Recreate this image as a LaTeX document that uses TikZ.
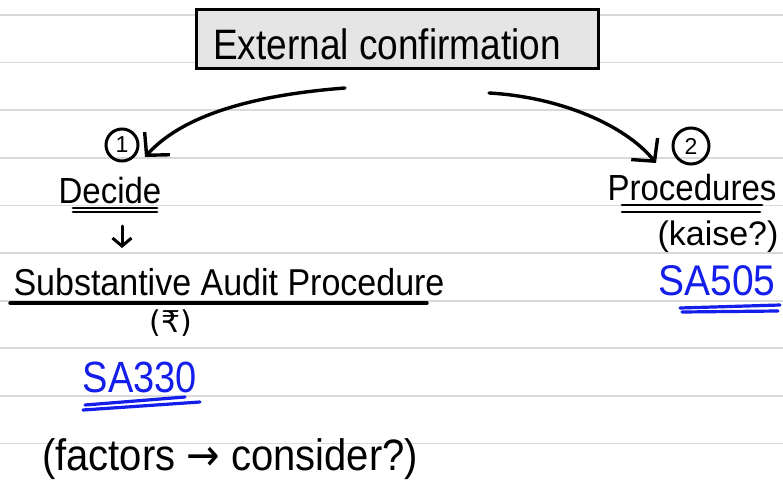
\documentclass[tikz,border=0pt]{standalone}
\usepackage{fontspec}
\setmainfont{Liberation Sans}
\newfontfamily\symfont{DejaVu Sans}
\usetikzlibrary{arrows.meta}
\definecolor{inkblue}{RGB}{20,30,235}
\definecolor{rulegray}{RGB}{217,217,217}
\definecolor{boxfill}{RGB}{229,229,229}
\begin{document}
\begin{tikzpicture}[x=1pt,y=-1pt,
  ink/.style={line width=3.4pt, line cap=round, draw=black},
  handarrow/.style={ink, -{Straight Barb[length=16pt,width=34pt]}},
  txt/.style={inner sep=0pt, anchor=base},
  ruleline/.style={draw=rulegray, line width=1.8pt},
  blueink/.style={draw=inkblue, line width=3.2pt, line cap=round},
  circnum/.style={draw=black, line width=3pt, circle, minimum size=32pt, inner sep=0pt, font=\fontsize{23}{23}\selectfont},
  titlebox/.style={draw=black, line width=3pt, fill=boxfill, minimum width=402pt, minimum height=59pt, inner sep=0pt}
]
\useasboundingbox (0,0) rectangle (783,484);
\fill[white] (0,0) rectangle (783,484);
\foreach \k in {0,...,9} \draw[ruleline] (0,{15+47.6*\k}) -- (783,{15+47.6*\k});

% title
\node[titlebox] (box) at (397,39.5) {};
\node[txt, font=\fontsize{37}{37}\selectfont] (title) at (387,60) {\scalebox{1}[1.15]{External confirmation}};

% arrows from title
\coordinate (a1s) at (345,88);
\coordinate (a1e) at (145,157);
\draw[handarrow] (a1s) .. controls (280,93) and (190,107) .. (a1e);
\coordinate (a2s) at (489,93);
\coordinate (a2e) at (656,163);
\draw[handarrow] (a2s) .. controls (560,97) and (625,125) .. (a2e);

% numbers
\node[circnum] (n1) at (122,145) {1};
\node[circnum, minimum size=36pt] (n2) at (691,146) {2};

% left branch
\node[txt, font=\fontsize{33}{33}\selectfont] (decide) at (110,203) {\scalebox{1}[1.1]{Decide}};
\draw[ink, line width=2.8pt] (73,208) -- (157,208);
\draw[ink, line width=2.8pt] (73,212) -- (157,212);
\coordinate (da) at (122,226);
\coordinate (db) at (122,248);
\draw[ink, line width=3pt, -{Straight Barb[length=8pt,width=19pt]}] (da) -- (db);
\node[txt, font=\fontsize{34}{34}\selectfont] (sap) at (229,295) {\scalebox{1}[1.1]{Substantive Audit Procedure}};
\draw[ink] (10,303) -- (427,303);
\node[inner sep=0pt, font=\symfont\fontsize{30}{30}\selectfont] (rup) at (171,323) {(₹)};
\node[txt, text=inkblue, font=\fontsize{38}{38}\selectfont] (sa330) at (140,392) {\scalebox{1}[1.15]{SA330}};
\draw[blueink] (85,405) -- (185,397);
\draw[blueink] (83,410) -- (200,402);
\node[txt, font=\fontsize{40}{40}\selectfont] (factors) at (230,470) {\scalebox{1}[1.1]{(factors {\symfont →} consider?)}};

% right branch
\node[txt, font=\fontsize{33}{33}\selectfont] (proc) at (692,200) {\scalebox{1}[1.1]{Procedures}};
\draw[ink, line width=2.8pt] (622,205) -- (762,205);
\draw[ink, line width=2.8pt] (622,212) -- (760,212);
\node[txt, font=\fontsize{34}{34}\selectfont] (kaise) at (718,245) {(kaise?)};
\node[txt, text=inkblue, font=\fontsize{39}{39}\selectfont] (sa505) at (717,295) {\scalebox{1}[1.1]{SA505}};
\draw[blueink] (680,308) -- (780,305);
\draw[blueink] (682,312) -- (778,311);
\end{tikzpicture}
\end{document}
